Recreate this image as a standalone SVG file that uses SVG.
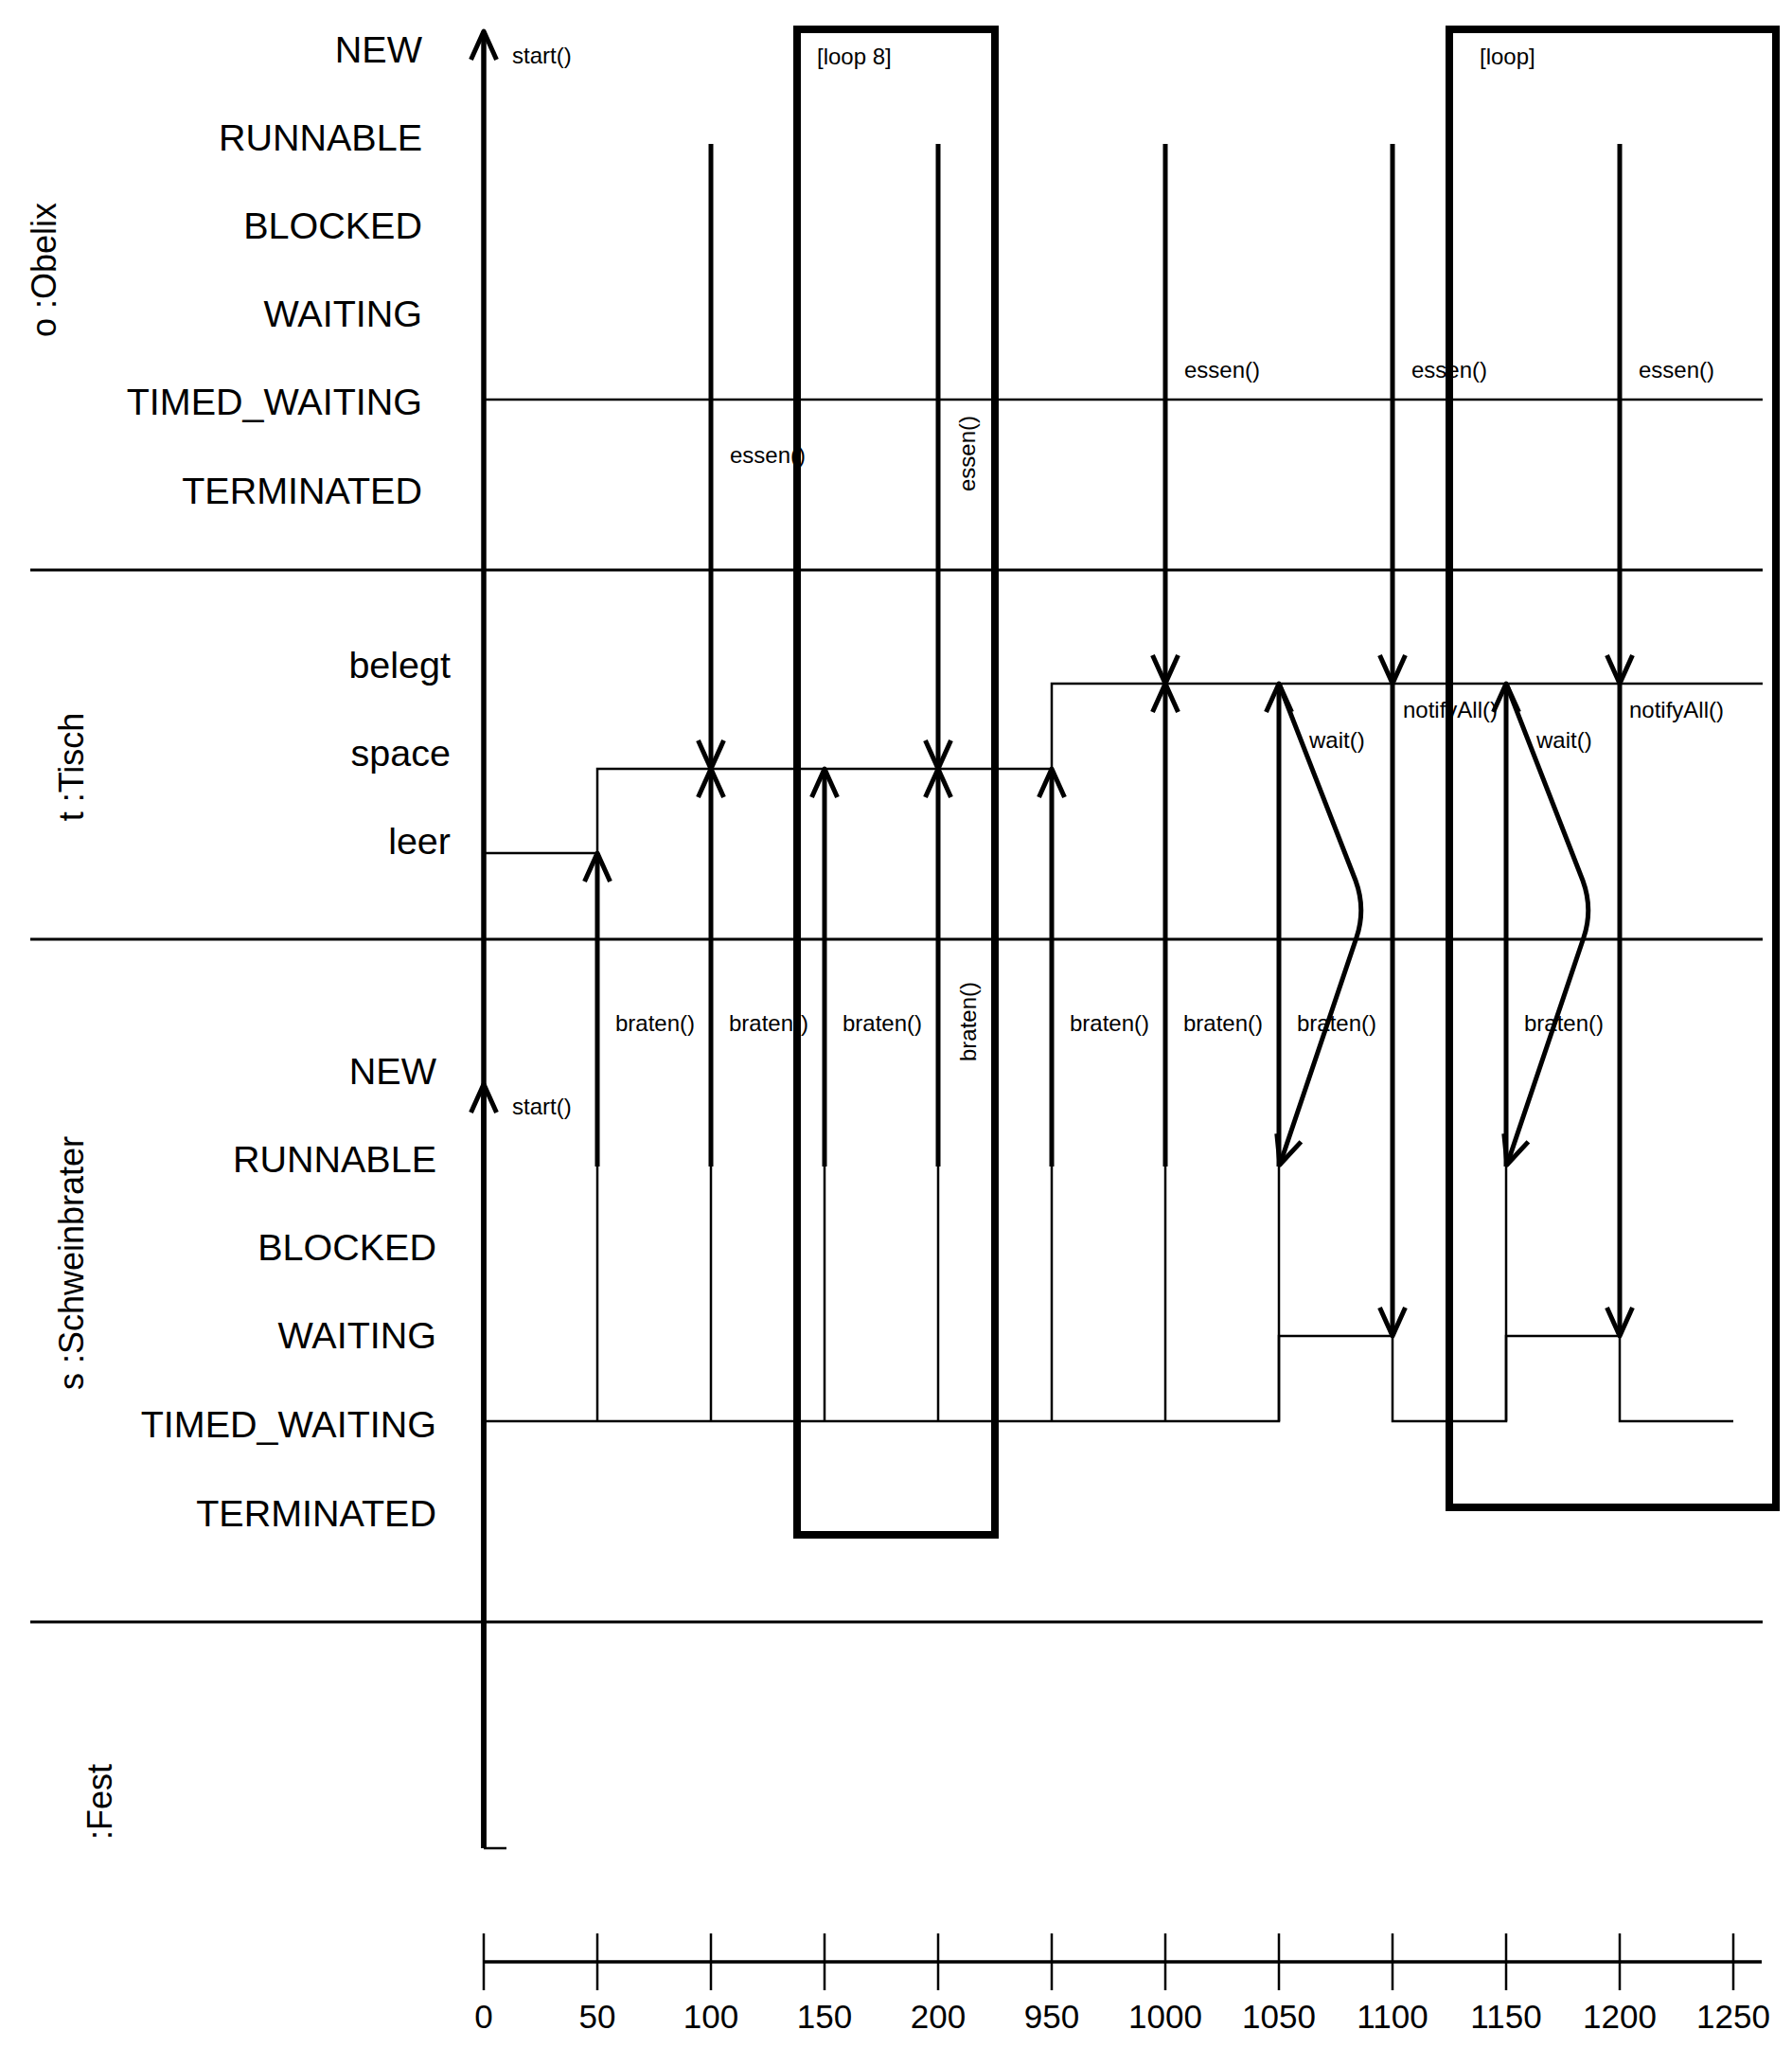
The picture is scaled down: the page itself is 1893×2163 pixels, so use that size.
<svg xmlns="http://www.w3.org/2000/svg" width="1893" height="2163" viewBox="0 0 1893 2163">
<defs>
<marker id="ah" markerUnits="userSpaceOnUse" markerWidth="40" markerHeight="40" refX="0" refY="0" orient="auto" overflow="visible">
<polyline points="-30,-13.5 0,0 -30,13.5" fill="none" stroke="#000" stroke-width="5" stroke-linejoin="round"/>
</marker>
<style>
text{font-family:"Liberation Sans",Arial,sans-serif;fill:#000}
.state{font-size:39.5px;text-anchor:end}
.lane{font-size:36px;text-anchor:middle}
.msg{font-size:24px}
.msgv{font-size:24px;text-anchor:middle}
.tick{font-size:35px;text-anchor:middle}
.sep{stroke:#000;stroke-width:3;fill:none}
.step{stroke:#000;stroke-width:2.5;fill:none}
.arr{stroke:#000;stroke-width:5;fill:none}
.axis{stroke:#000;stroke-width:5.5;fill:none}
.loop{stroke:#000;stroke-width:8;fill:none}
.tk{stroke:#000;stroke-width:2.5}
</style>
</defs>
<rect x="0" y="0" width="1893" height="2163" fill="#fff"/>

<g id="separators">
<path class="sep" d="M32,602 H1862"/>
<path class="sep" d="M32,992 H1862"/>
<path class="sep" d="M32,1713 H1862"/>
</g>

<g id="lane-obelix">
<text class="lane" transform="translate(59,285) rotate(-90)">o :Obelix</text>
<text class="state" x="446" y="66">NEW</text>
<text class="state" x="446" y="159">RUNNABLE</text>
<text class="state" x="446" y="252">BLOCKED</text>
<text class="state" x="446" y="345">WAITING</text>
<text class="state" x="446" y="438">TIMED_WAITING</text>
<text class="state" x="446" y="532">TERMINATED</text>
</g>

<g id="lane-tisch">
<text class="lane" transform="translate(88,810) rotate(-90)">t :Tisch</text>
<text class="state" x="476" y="716">belegt</text>
<text class="state" x="476" y="809">space</text>
<text class="state" x="476" y="902">leer</text>
</g>

<g id="lane-schweinbrater">
<text class="lane" transform="translate(88,1334) rotate(-90)">s :Schweinbrater</text>
<text class="state" x="461" y="1145">NEW</text>
<text class="state" x="461" y="1238">RUNNABLE</text>
<text class="state" x="461" y="1331">BLOCKED</text>
<text class="state" x="461" y="1424">WAITING</text>
<text class="state" x="461" y="1518">TIMED_WAITING</text>
<text class="state" x="461" y="1612">TERMINATED</text>
</g>

<g id="lane-fest">
<text class="lane" transform="translate(118,1903) rotate(-90)">:Fest</text>
</g>

<g id="labels">
<text class="msg" x="541" y="67">start()</text>
<text class="msg" x="541" y="1177">start()</text>
<text class="msg" x="771" y="489">essen()</text>
<text class="msgv" transform="translate(1030,479) rotate(-90)">essen()</text>
<text class="msg" x="1251" y="399">essen()</text>
<text class="msg" x="1491" y="399">essen()</text>
<text class="msg" x="1731" y="399">essen()</text>
<text class="msg" x="1482" y="758">notifyAll()</text>
<text class="msg" x="1721" y="758">notifyAll()</text>
<text class="msg" x="1383" y="790">wait()</text>
<text class="msg" x="1623" y="790">wait()</text>
<text class="msg" x="650" y="1089">braten()</text>
<text class="msg" x="770" y="1089">braten()</text>
<text class="msg" x="890" y="1089">braten()</text>
<text class="msgv" transform="translate(1031,1079) rotate(-90)">braten()</text>
<text class="msg" x="1130" y="1089">braten()</text>
<text class="msg" x="1250" y="1089">braten()</text>
<text class="msg" x="1370" y="1089">braten()</text>
<text class="msg" x="1610" y="1089">braten()</text>
</g>

<g id="connectors">
<path class="step" d="M511,422 H1862"/>
<path class="step" d="M511,901 H631 V812 H1111 V722 H1862"/>
<path class="step" d="M511,1501 H1351 V1411 H1471 V1501 H1591 V1411 H1711 V1501 H1831"/>
<path class="step" d="M631,1501 V1232 M751,1501 V1232 M871,1501 V1232 M991,1501 V1232 M1111,1501 V1232 M1231,1501 V1232 M1351,1501 V1232 M1591,1501 V1232"/>

<path class="axis" d="M511,1952 V33" marker-end="url(#ah)"/>
<path class="axis" d="M511,1952 V1145" marker-end="url(#ah)"/>
<path class="step" d="M511,1952 H535"/>

<path class="arr" d="M751,152 V812" marker-end="url(#ah)"/>
<path class="arr" d="M991,152 V812" marker-end="url(#ah)"/>
<path class="arr" d="M1231,152 V722" marker-end="url(#ah)"/>
<path class="arr" d="M1471,152 V722" marker-end="url(#ah)"/>
<path class="arr" d="M1471,722 V1411" marker-end="url(#ah)"/>
<path class="arr" d="M1711,152 V722" marker-end="url(#ah)"/>
<path class="arr" d="M1711,722 V1411" marker-end="url(#ah)"/>

<path class="arr" d="M631,1232 V901" marker-end="url(#ah)"/>
<path class="arr" d="M751,1232 V812" marker-end="url(#ah)"/>
<path class="arr" d="M871,1232 V812" marker-end="url(#ah)"/>
<path class="arr" d="M991,1232 V812" marker-end="url(#ah)"/>
<path class="arr" d="M1111,1232 V812" marker-end="url(#ah)"/>
<path class="arr" d="M1231,1232 V722" marker-end="url(#ah)"/>
<path class="arr" d="M1351,1232 V722" marker-end="url(#ah)"/>
<path class="arr" d="M1591,1232 V722" marker-end="url(#ah)"/>

<path class="arr" d="M1351,722 L1432,930 Q1443,960 1433,990 L1352,1230" marker-end="url(#ah)"/>
<path class="arr" d="M1591,722 L1672,930 Q1683,960 1673,990 L1592,1230" marker-end="url(#ah)"/>
</g>

<g id="loop8">
<rect class="loop" x="842" y="31" width="209" height="1590"/>
<text class="msg" x="863" y="68">[loop 8]</text>
</g>
<g id="loop">
<rect class="loop" x="1531" y="31" width="345" height="1561"/>
<text class="msg" x="1563" y="68">[loop]</text>
</g>

<g id="time-axis">
<path class="sep" d="M511,2072 H1861" style="stroke-width:3.5"/>
<path class="tk" d="M511,2042 V2102 M631,2042 V2102 M751,2042 V2102 M871,2042 V2102 M991,2042 V2102 M1111,2042 V2102 M1231,2042 V2102 M1351,2042 V2102 M1471,2042 V2102 M1591,2042 V2102 M1711,2042 V2102 M1831,2042 V2102"/>
<text class="tick" x="511" y="2142">0</text>
<text class="tick" x="631" y="2142">50</text>
<text class="tick" x="751" y="2142">100</text>
<text class="tick" x="871" y="2142">150</text>
<text class="tick" x="991" y="2142">200</text>
<text class="tick" x="1111" y="2142">950</text>
<text class="tick" x="1231" y="2142">1000</text>
<text class="tick" x="1351" y="2142">1050</text>
<text class="tick" x="1471" y="2142">1100</text>
<text class="tick" x="1591" y="2142">1150</text>
<text class="tick" x="1711" y="2142">1200</text>
<text class="tick" x="1831" y="2142">1250</text>
</g>
</svg>
